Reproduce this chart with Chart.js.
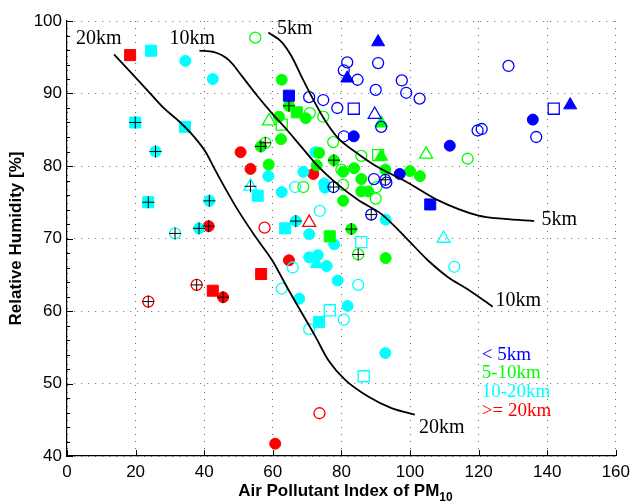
<!DOCTYPE html>
<html>
<head>
<meta charset="utf-8">
<script src="https://cdn.jsdelivr.net/npm/chart.js@4.4.0/dist/chart.umd.min.js"></script>
<style>
  html, body { margin: 0; padding: 0; background: #fff; }
  #wrap { width: 636px; height: 504px; }
</style>
</head>
<body>
<div id="wrap"><canvas id="c" width="636" height="504"></canvas></div>
<script>
// Axis ticks
const xTickValues = [0, 20, 40, 60, 80, 100, 120, 140, 160];
const yTickValues = [40, 50, 60, 70, 80, 90, 100];

// Visibility classes
const classNames  = ['< 5km', '5-10km', '10-20km', '>= 20km'];
const classColors = ['#0000ff', '#00ff00', '#00ffff', '#ff0000'];

// Observations: [PM10 API, relative humidity %, marker code]
// marker code: f/o = filled/open, c/s/t = circle/square/triangle, '+' = cross overlay
const under5km = [
  [64.7, 89.7, 'fs'], [70.6, 89.5, 'oc'], [74.7, 89.1, 'oc'], [78.8, 88.0, 'oc'],
  [83.6, 87.9, 'os'], [89.7, 87.1, 'ot'], [91.6, 85.4, 'oc'], [80.7, 84.1, 'oc'],
  [83.6, 84.1, 'fc'], [90.7, 97.1, 'ft'], [81.7, 94.3, 'oc'], [80.7, 93.2, 'oc'],
  [81.7, 92.1, 'ft'], [84.7, 91.9, 'oc'], [90.7, 94.2, 'oc'], [90.0, 90.5, 'oc'],
  [97.6, 91.8, 'oc'], [98.9, 90.1, 'oc'], [102.8, 89.3, 'oc'], [128.7, 93.8, 'oc'],
  [141.9, 87.9, 'os'], [146.7, 88.4, 'ft'], [135.8, 86.4, 'fc'], [136.8, 84.0, 'oc'],
  [119.7, 84.9, 'oc'], [120.9, 85.1, 'oc'], [111.6, 82.8, 'fc'], [77.7, 77.1, 'oc+'],
  [89.5, 78.2, 'oc'], [92.8, 78.1, 'oc+'], [93.1, 77.7, 'oc'], [97.0, 78.9, 'fc'],
  [105.9, 74.7, 'fs'], [88.7, 73.3, 'oc+']
];
const km5to10 = [
  [54.9, 97.7, 'oc'], [62.6, 91.9, 'fc'], [64.7, 88.3, 'fc+'], [67.0, 87.4, 'fs'],
  [70.8, 87.3, 'oc'], [69.6, 86.6, 'fc'], [74.7, 86.8, 'oc'], [61.8, 86.8, 'fc'],
  [58.9, 86.2, 'ot'], [62.6, 85.7, 'os'], [62.4, 83.7, 'fc'], [56.5, 82.7, 'fc+'],
  [57.8, 83.2, 'oc+'], [58.8, 80.2, 'fc'], [73.5, 81.8, 'fc'], [72.8, 80.1, 'fc'],
  [77.8, 80.8, 'fc+'], [77.6, 83.3, 'oc'], [91.6, 85.9, 'ft'], [85.8, 81.4, 'oc'],
  [90.7, 81.5, 'os'], [91.6, 81.3, 'ft'], [104.7, 81.6, 'ot'], [116.8, 81.0, 'oc'],
  [80.0, 79.5, 'oc'], [80.5, 79.2, 'fc'], [83.7, 79.7, 'fc'], [80.5, 77.4, 'oc'],
  [85.8, 78.2, 'fc'], [85.8, 76.5, 'fc'], [87.8, 76.5, 'fc'], [90.2, 77.1, 'oc'],
  [90.0, 75.5, 'oc'], [92.8, 79.5, 'fc'], [100.0, 79.3, 'fc'], [102.9, 78.6, 'fc'],
  [80.5, 75.2, 'fc'], [68.9, 77.1, 'oc'], [76.6, 70.3, 'fs'], [82.9, 71.3, 'fc+'],
  [84.9, 67.8, 'oc+'], [92.9, 67.3, 'fc']
];
const km10to20 = [
  [24.5, 95.9, 'fs'], [34.5, 94.5, 'fc'], [42.5, 92.0, 'fc'], [19.9, 86.0, 'fs+'],
  [34.4, 85.4, 'fs'], [25.8, 82.0, 'fc+'], [23.7, 75.0, 'fs+'], [41.5, 75.2, 'fc+'],
  [31.5, 70.7, 'oc+'], [38.5, 71.4, 'fc+'], [53.5, 77.2, 'ot+'], [55.6, 75.9, 'fs'],
  [58.7, 78.6, 'fc'], [68.9, 79.2, 'fc'], [62.6, 76.4, 'fc'], [66.5, 77.1, 'oc'],
  [75.0, 77.6, 'fc'], [75.2, 77.0, 'fc'], [72.4, 81.9, 'fc'], [73.7, 73.8, 'oc'],
  [66.7, 72.4, 'fc+'], [63.6, 71.4, 'fs'], [70.6, 70.6, 'fc'], [92.9, 72.6, 'fc'],
  [77.9, 69.2, 'fc'], [85.8, 69.5, 'os'], [70.6, 67.4, 'fc'], [73.1, 67.7, 'fc'],
  [75.7, 66.2, 'fc'], [72.8, 66.5, 'ft'], [65.8, 66.0, 'oc'], [62.6, 63.1, 'oc'],
  [78.9, 64.2, 'fc'], [84.9, 63.6, 'oc'], [67.7, 61.7, 'fc'], [76.6, 60.1, 'os'],
  [81.8, 60.7, 'fc'], [73.5, 58.5, 'fs'], [70.6, 57.5, 'oc'], [80.7, 58.8, 'oc'],
  [92.8, 54.2, 'fc'], [86.5, 51.0, 'os'], [109.8, 70.0, 'ot'], [112.9, 66.1, 'oc']
];
const over20km = [
  [18.4, 95.3, 'fs'], [50.6, 81.9, 'fc'], [53.5, 79.6, 'fc'], [41.3, 71.7, 'fc+'],
  [37.8, 63.6, 'oc+'], [42.5, 62.8, 'fs'], [45.5, 61.9, 'fc+'], [23.7, 61.3, 'oc+'],
  [56.6, 65.1, 'fs'], [57.6, 71.5, 'oc'], [64.7, 67.0, 'fc'], [71.8, 78.9, 'fc'],
  [70.6, 72.2, 'ot'], [73.6, 45.9, 'oc'], [60.7, 41.7, 'fc']
];

// Visibility isolines
const curve5km = [
  [58.7, 98.4], [62.6, 97.1], [65.5, 95.1], [68.4, 92.3], [71.3, 89.6], [75.2, 86.3],
  [79.1, 83.8], [83.9, 82.0], [89.7, 80.1], [99.4, 77.7], [108.1, 75.3], [119.7, 73.2],
  [127.5, 72.7], [136.2, 72.4]
];
const curve10km = [
  [38.6, 95.9], [42.9, 95.7], [47.2, 94.6], [51.0, 92.4], [55.1, 89.9], [59.7, 87.3],
  [64.1, 85.0], [68.4, 82.6], [73.3, 79.9], [78.3, 77.7], [84.9, 75.3], [91.6, 73.4],
  [98.6, 70.2], [105.2, 67.0], [111.0, 64.7], [116.8, 63.0], [124.1, 60.6]
];
const curve20km = [
  [13.7, 95.4], [18.8, 92.8], [24.1, 90.1], [28.4, 87.9], [32.8, 86.1], [37.1, 84.0],
  [40.6, 81.8], [42.9, 79.7], [49.2, 74.4], [55.0, 70.2], [59.8, 67.0], [64.6, 62.9],
  [68.0, 60.1], [72.4, 56.5], [76.2, 53.2], [81.1, 50.5], [87.8, 48.2], [94.6, 46.6],
  [101.4, 45.7]
];
const curveNames = ['5km', '10km', '20km'];

// ---- styling helpers ----
const markerShapes = {
  c: { style: 'circle', r: 5.5 },
  s: { style: 'rect', r: 7.8 },
  t: { style: 'triangle', r: 7.5 }
};
const shapeOf = m => markerShapes[(m || 'fc')[1]];
const isFilled = m => (m || 'f')[0] === 'f';
const hasCross = m => (m || '').endsWith('+');

function pointDataset(rows, color, label) {
  return {
    label,
    data: rows.map(r => ({ x: r[0], y: r[1], m: r[2] })),
    showLine: false,
    pointStyle: c => shapeOf(c.raw && c.raw.m).style,
    pointRadius: c => shapeOf(c.raw && c.raw.m).r,
    pointBackgroundColor: c => isFilled(c.raw && c.raw.m) ? color : 'rgba(0,0,0,0)',
    pointBorderColor: color,
    pointBorderWidth: c => isFilled(c.raw && c.raw.m) ? 1 : 1.3
  };
}

function curveDataset(pts, label) {
  return {
    label,
    data: pts.map(p => ({ x: p[0], y: p[1] })),
    showLine: true,
    borderColor: '#000',
    borderWidth: 1.8,
    pointRadius: 0,
    cubicInterpolationMode: 'monotone',
    fill: false
  };
}

const allClasses = [under5km, km5to10, km10to20, over20km];
const crossRows = allClasses.flat().filter(r => hasCross(r[2]));

const datasets = [
  curveDataset(curve5km, curveNames[0]),
  curveDataset(curve10km, curveNames[1]),
  curveDataset(curve20km, curveNames[2]),
  {
    label: 'cross',
    data: crossRows.map(r => ({ x: r[0], y: r[1] })),
    showLine: false,
    pointStyle: 'cross',
    pointRadius: 6,
    pointBorderColor: '#000',
    pointBorderWidth: 1
  },
  pointDataset(under5km, classColors[0], classNames[0]),
  pointDataset(km5to10, classColors[1], classNames[1]),
  pointDataset(km10to20, classColors[2], classNames[2]),
  pointDataset(over20km, classColors[3], classNames[3])
];

// Text annotations anchored in data units
const curveLabelSpots = [
  { text: '20km', x: 2.6, y: 97.6 },
  { text: '10km', x: 29.9, y: 97.6 },
  { text: '5km', x: 61.2, y: 99.0 },
  { text: '5km', x: 138.3, y: 72.55 },
  { text: '10km', x: 124.9, y: 61.4 },
  { text: '20km', x: 102.6, y: 43.9 }
];
const legendSpot = { x: 120.9, y: [53.9, 51.4, 48.8, 46.2] };

const sansFamily = '"Liberation Sans", Arial, Helvetica, sans-serif';
const serifFamily = '"Liberation Serif", "Times New Roman", Times, serif';

const decorations = {
  id: 'decorations',
  afterDatasetsDraw(chart) {
    const { ctx, chartArea: a, scales: { x, y } } = chart;
    ctx.save();
    // inward tick marks
    ctx.strokeStyle = '#000';
    ctx.lineWidth = 1;
    ctx.beginPath();
    xTickValues.forEach(v => {
      const px = Math.round(x.getPixelForValue(v)) + 0.5;
      ctx.moveTo(px, a.bottom);
      ctx.lineTo(px, a.bottom - 6);
    });
    for (let v = y.min; v <= y.max; v += 2) {
      const py = Math.round(y.getPixelForValue(v)) + 0.5;
      const len = (v % 10 === 0) ? 6 : 3;
      ctx.moveTo(a.left, py);
      ctx.lineTo(a.left + len, py);
    }
    ctx.stroke();

    // isoline labels
    ctx.fillStyle = '#000';
    ctx.textBaseline = 'middle';
    ctx.textAlign = 'left';
    ctx.font = '20px ' + serifFamily;
    curveLabelSpots.forEach(s => {
      ctx.fillText(s.text, x.getPixelForValue(s.x), y.getPixelForValue(s.y));
    });

    // class key
    ctx.font = '19px ' + serifFamily;
    classNames.forEach((n, i) => {
      ctx.fillStyle = classColors[i];
      ctx.fillText(n, x.getPixelForValue(legendSpot.x), y.getPixelForValue(legendSpot.y[i]));
    });

    // x axis title with subscript
    const main = 'Air Pollutant Index of PM';
    const sub = '10';
    ctx.fillStyle = '#000';
    ctx.font = 'bold 17px ' + sansFamily;
    const wMain = ctx.measureText(main).width;
    ctx.font = 'bold 12px ' + sansFamily;
    const wSub = ctx.measureText(sub).width;
    const cx = (a.left + a.right) / 2 + 4;
    const x0 = cx - (wMain + wSub) / 2;
    const baseY = 496;
    ctx.textBaseline = 'alphabetic';
    ctx.font = 'bold 17px ' + sansFamily;
    ctx.fillText(main, x0, baseY);
    ctx.font = 'bold 12px ' + sansFamily;
    ctx.fillText(sub, x0 + wMain, baseY + 5);
    ctx.restore();
  }
};

new Chart(document.getElementById('c'), {
  type: 'scatter',
  data: { datasets },
  options: {
    responsive: false,
    devicePixelRatio: 1,
    animation: false,
    events: [],
    layout: { padding: { left: 0, right: 17, top: 21, bottom: 0 } },
    plugins: { legend: { display: false }, tooltip: { enabled: false } },
    scales: {
      x: {
        type: 'linear', min: 0, max: 160,
        afterBuildTicks: s => { s.ticks = xTickValues.map(v => ({ value: v })); },
        afterFit: s => { s.height = 48; },
        ticks: { font: { size: 17, family: sansFamily }, color: '#000', padding: 6, maxRotation: 0, autoSkip: false },
        grid: { color: 'rgba(0,0,0,0.6)', lineWidth: 1, drawTicks: false },
        border: { display: true, color: '#000', width: 1.2, dash: [1, 6] }
      },
      y: {
        type: 'linear', min: 40, max: 100,
        afterBuildTicks: s => { s.ticks = yTickValues.map(v => ({ value: v })); },
        afterFit: s => { s.width = 67; },
        ticks: { font: { size: 17, family: sansFamily }, color: '#000', padding: 5, autoSkip: false },
        grid: { color: 'rgba(0,0,0,0.6)', lineWidth: 1, drawTicks: false },
        border: { display: true, color: '#000', width: 1.2, dash: [1, 6] },
        title: {
          display: true, text: 'Relative Humidity [%]', color: '#000',
          font: { size: 17, weight: 'bold', family: sansFamily },
          padding: { top: 6, bottom: 0 }
        }
      }
    }
  },
  plugins: [decorations]
});
</script>
</body>
</html>
